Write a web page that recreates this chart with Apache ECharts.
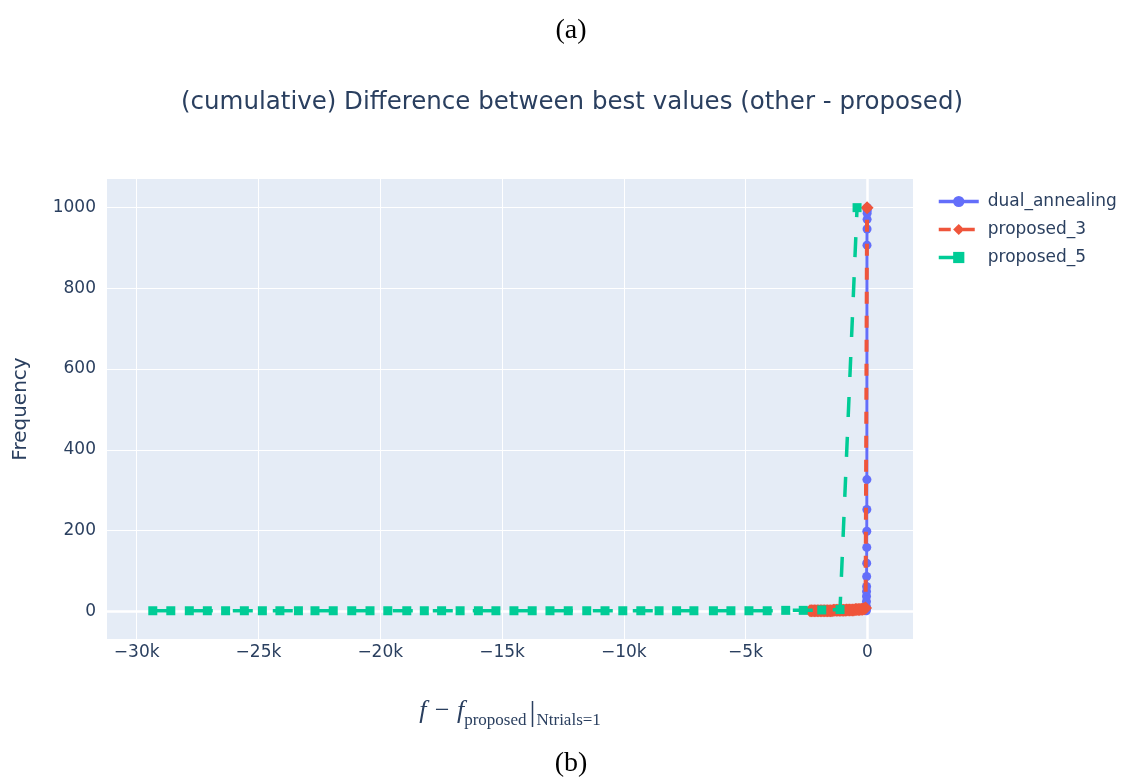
<!DOCTYPE html>
<html>
<head>
<meta charset="utf-8">
<script src="https://cdn.jsdelivr.net/npm/echarts@6/dist/echarts.min.js"></script>
<style>
html,body{margin:0;padding:0;background:#fff;}
#chart{width:1122px;height:780px;}
</style>
</head>
<body>
<div id="chart"></div>
<script>
// ---- data ----
const seriesNames = ['dual_annealing', 'proposed_3', 'proposed_5'];

const dualX = [-40, -38, -36, -34, -32, -30, -28, -26, -24, -22, -20, -18, -16, -12, -10, -8, -6, -3, 0];
const dualY = [1, 4, 12, 24, 37, 49, 61, 86, 119, 158, 198, 252, 326, 907, 947, 971, 986, 993, 1000];

const prop3X = [-2350, -2290, -2230, -2170, -2110, -2050, -1990, -1930, -1870, -1810,
                -1750, -1690, -1630, -1570, -1510, -1450, -1390, -1330, -1270, -1210,
                -1150, -1090, -1030, -970, -910, -850, -790, -730, -670, -610,
                -550, -490, -430, -370, -310, -250, -190, -130, -70, -10];
const prop3Y = [1, 1, 1, 1, 1, 1, 1, 1, 1, 1,
                1, 1, 1, 1, 1, 1, 2, 2, 2, 2,
                2, 2, 2, 2, 2, 3, 3, 3, 3, 3,
                3, 4, 4, 4, 4, 5, 5, 6, 8, 1000];

const prop5X = [-29340, -28600, -27840, -27100, -26350, -25580, -24840, -24120, -23360, -22680,
                -21930, -21170, -20420, -19690, -18910, -18190, -17480, -16720, -15970, -15250,
                -14510, -13760, -13030, -12280, -11520, -10770, -10040, -9300, -8550, -7830,
                -7120, -6320, -5600, -4860, -4110, -3350, -2630, -1870, -1120, -420];
const prop5Y = [1, 1, 1, 1, 1, 1, 1, 1, 1, 1,
                1, 1, 1, 1, 1, 1, 1, 1, 1, 1,
                1, 1, 1, 1, 1, 1, 1, 1, 1, 1,
                1, 1, 1, 1, 1, 2, 2, 3, 4, 1000];

const xTicks = [-30000, -25000, -20000, -15000, -10000, -5000, 0];
const yTicks = [0, 200, 400, 600, 800, 1000];

// ---- chart ----
const TXT = '#2a3f5f';
const FONT = 'DejaVu Sans';
const SERIF = 'Liberation Serif';
const zip = (xs, ys) => xs.map((x, i) => [x, ys[i]]);

const chart = echarts.init(document.getElementById('chart'), null, {renderer: 'canvas'});

const option = {
  backgroundColor: '#ffffff',
  animation: false,
  title: [
    {text: '(a)', left: 566, textAlign: 'center', top: 12,
     textStyle: {fontFamily: SERIF, fontSize: 28, fontWeight: 'normal', color: '#000'}},
    {text: '(cumulative) Difference between best values (other - proposed)', left: 567, textAlign: 'center', top: 85,
     textStyle: {fontFamily: FONT, fontSize: 24.5, fontWeight: 'normal', color: TXT}},
    {text: '(b)', left: 566, textAlign: 'center', top: 745,
     textStyle: {fontFamily: SERIF, fontSize: 28, fontWeight: 'normal', color: '#000'}}
  ],
  legend: {
    orient: 'vertical',
    left: 932,
    top: 188,
    itemWidth: 40,
    itemHeight: 14,
    itemGap: 11,
    data: seriesNames,
    lineStyle: {width: 3.5},
    textStyle: {fontFamily: FONT, fontSize: 17, color: TXT, padding: [0, 0, 0, 4]}
  },
  grid: {left: 107, right: 209, top: 179, bottom: 141, show: true, backgroundColor: '#E5ECF6', borderWidth: 0},
  xAxis: {
    type: 'value',
    min: -31220,
    max: 1877,
    axisLine: {show: false},
    axisTick: {show: false, customValues: xTicks},
    splitLine: {show: true, lineStyle: {color: '#ffffff', width: 1}},
    axisLabel: {
      customValues: xTicks,
      fontFamily: FONT, fontSize: 17, color: TXT, margin: 5,
      formatter: v => v === 0 ? '0' : (v < 0 ? '\u2212' : '') + Math.abs(v / 1000) + 'k'
    },
    name: '{a|f \u2212 f}{b|proposed}{c||}{b|Ntrials=1}',
    nameLocation: 'middle',
    nameGap: 53,
    nameTextStyle: {
      color: TXT,
      rich: {
        a: {fontFamily: SERIF, fontStyle: 'italic', fontSize: 26, color: TXT, verticalAlign: 'bottom', lineHeight: 32},
        b: {fontFamily: SERIF, fontSize: 17, color: TXT, verticalAlign: 'bottom', lineHeight: 32, padding: [0, 0, -5, 0]},
        c: {fontFamily: SERIF, fontSize: 30, color: TXT, verticalAlign: 'bottom', lineHeight: 32, padding: [0, 1, -4, 3]}
      }
    }
  },
  yAxis: {
    type: 'value',
    min: -69,
    max: 1071,
    axisLine: {show: false},
    axisTick: {show: false, customValues: yTicks},
    splitLine: {show: true, lineStyle: {color: '#ffffff', width: 1}},
    axisLabel: {customValues: yTicks, fontFamily: FONT, fontSize: 17, color: TXT, margin: 11,
                formatter: v => String(v)},
    name: 'Frequency',
    nameLocation: 'middle',
    nameGap: 76,
    nameTextStyle: {fontFamily: FONT, fontSize: 20, color: TXT}
  },
  series: [
    {
      name: 'zero', type: 'line', data: [], silent: true, z: 1,
      markLine: {
        silent: true, symbol: 'none', label: {show: false}, z: 1,
        lineStyle: {color: '#ffffff', width: 2.5, type: 'solid'},
        data: [{xAxis: 0}, {yAxis: 0}]
      }
    },
    {
      name: seriesNames[0], type: 'line', z: 10,
      data: zip(dualX, dualY),
      symbol: 'circle', symbolSize: 9, showAllSymbol: true,
      itemStyle: {color: '#636efa'},
      lineStyle: {color: '#636efa', width: 3}
    },
    {
      name: seriesNames[1], type: 'line', z: 11,
      data: zip(prop3X, prop3Y),
      symbol: 'diamond', symbolSize: 13, showAllSymbol: true,
      itemStyle: {color: '#EF553B'},
      lineStyle: {color: '#EF553B', width: 4, type: [12, 12]}
    },
    {
      name: seriesNames[2], type: 'line', z: 12,
      data: zip(prop5X, prop5Y),
      symbol: 'rect', symbolSize: 9, showAllSymbol: true,
      itemStyle: {color: '#00cc96'},
      lineStyle: {color: '#00cc96', width: 3.5, type: [20, 20]}
    }
  ]
};
chart.setOption(option);
</script>
</body>
</html>
